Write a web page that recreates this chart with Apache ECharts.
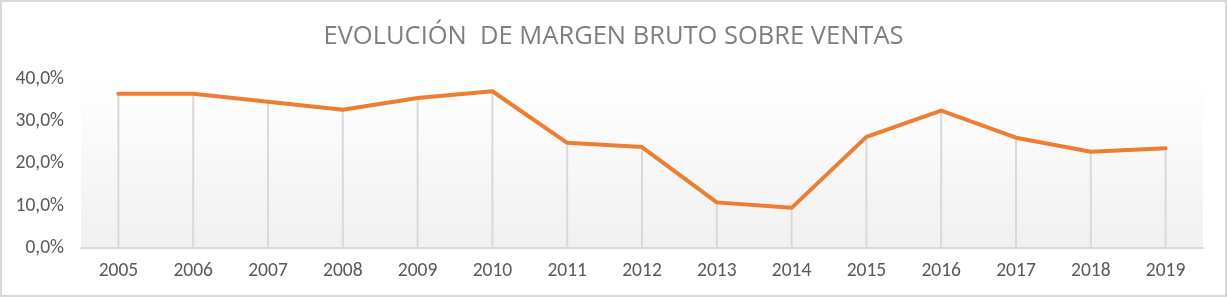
<!DOCTYPE html>
<html>
<head>
<meta charset="utf-8">
<script src="https://cdn.jsdelivr.net/npm/echarts@6/dist/echarts.min.js"></script>
<style>
html,body{margin:0;padding:0;background:#fff;}
#c{width:1227px;height:297px;box-sizing:border-box;border:2px solid #d9d9d9;}
</style>
</head>
<body>
<div id="c"></div>
<script>
const titleText = 'EVOLUCIÓN  DE MARGEN BRUTO SOBRE VENTAS';
const years = ['2005','2006','2007','2008','2009','2010','2011','2012','2013','2014','2015','2016','2017','2018','2019'];
const margin = [36.5, 36.5, 34.6, 32.7, 35.5, 37.1, 24.9, 23.9, 10.8, 9.5, 26.3, 32.5, 26.1, 22.8, 23.6];
const yTicks = [0, 10, 20, 30, 40];

const chart = echarts.init(document.getElementById('c'), null, {renderer:'canvas'});
const font = 'Carlito, Lato, "Open Sans", sans-serif';
chart.setOption({
  animation:false,
  title:{
    text:titleText, left:'center', top:17,
    textStyle:{fontFamily:'"Open Sans", sans-serif', fontSize:25.5, fontWeight:'normal', color:'#7f7f7f'}
  },
  grid:{
    left:79, right:22, top:77, bottom:47,
    show:true, borderWidth:0,
    backgroundColor:new echarts.graphic.LinearGradient(0,0,0,1,[
      {offset:0,color:'#ffffff'},{offset:1,color:'#f0f0f0'}
    ])
  },
  xAxis:{
    type:'category', data:years, boundaryGap:true,
    axisLine:{lineStyle:{color:'#d9d9d9', width:2}},
    axisTick:{show:false},
    axisLabel:{fontFamily:font, fontSize:19.5, color:'#595959', margin:13}
  },
  yAxis:{
    type:'value', min:yTicks[0], max:yTicks[yTicks.length-1], interval:10,
    axisLine:{show:false}, axisTick:{show:false}, splitLine:{show:false},
    axisLabel:{fontFamily:font, fontSize:19.5, color:'#595959', margin:17,
      formatter:v=>v.toFixed(1).replace('.',',')+'%'}
  },
  series:[
    {type:'bar', data:margin, barWidth:2, itemStyle:{color:'#d9d9d9'}, z:1, silent:true},
    {type:'line', data:margin, symbol:'none', z:3,
      lineStyle:{color:'#ed7d31', width:4, join:'round', cap:'round'}}
  ]
});
</script>
</body>
</html>
